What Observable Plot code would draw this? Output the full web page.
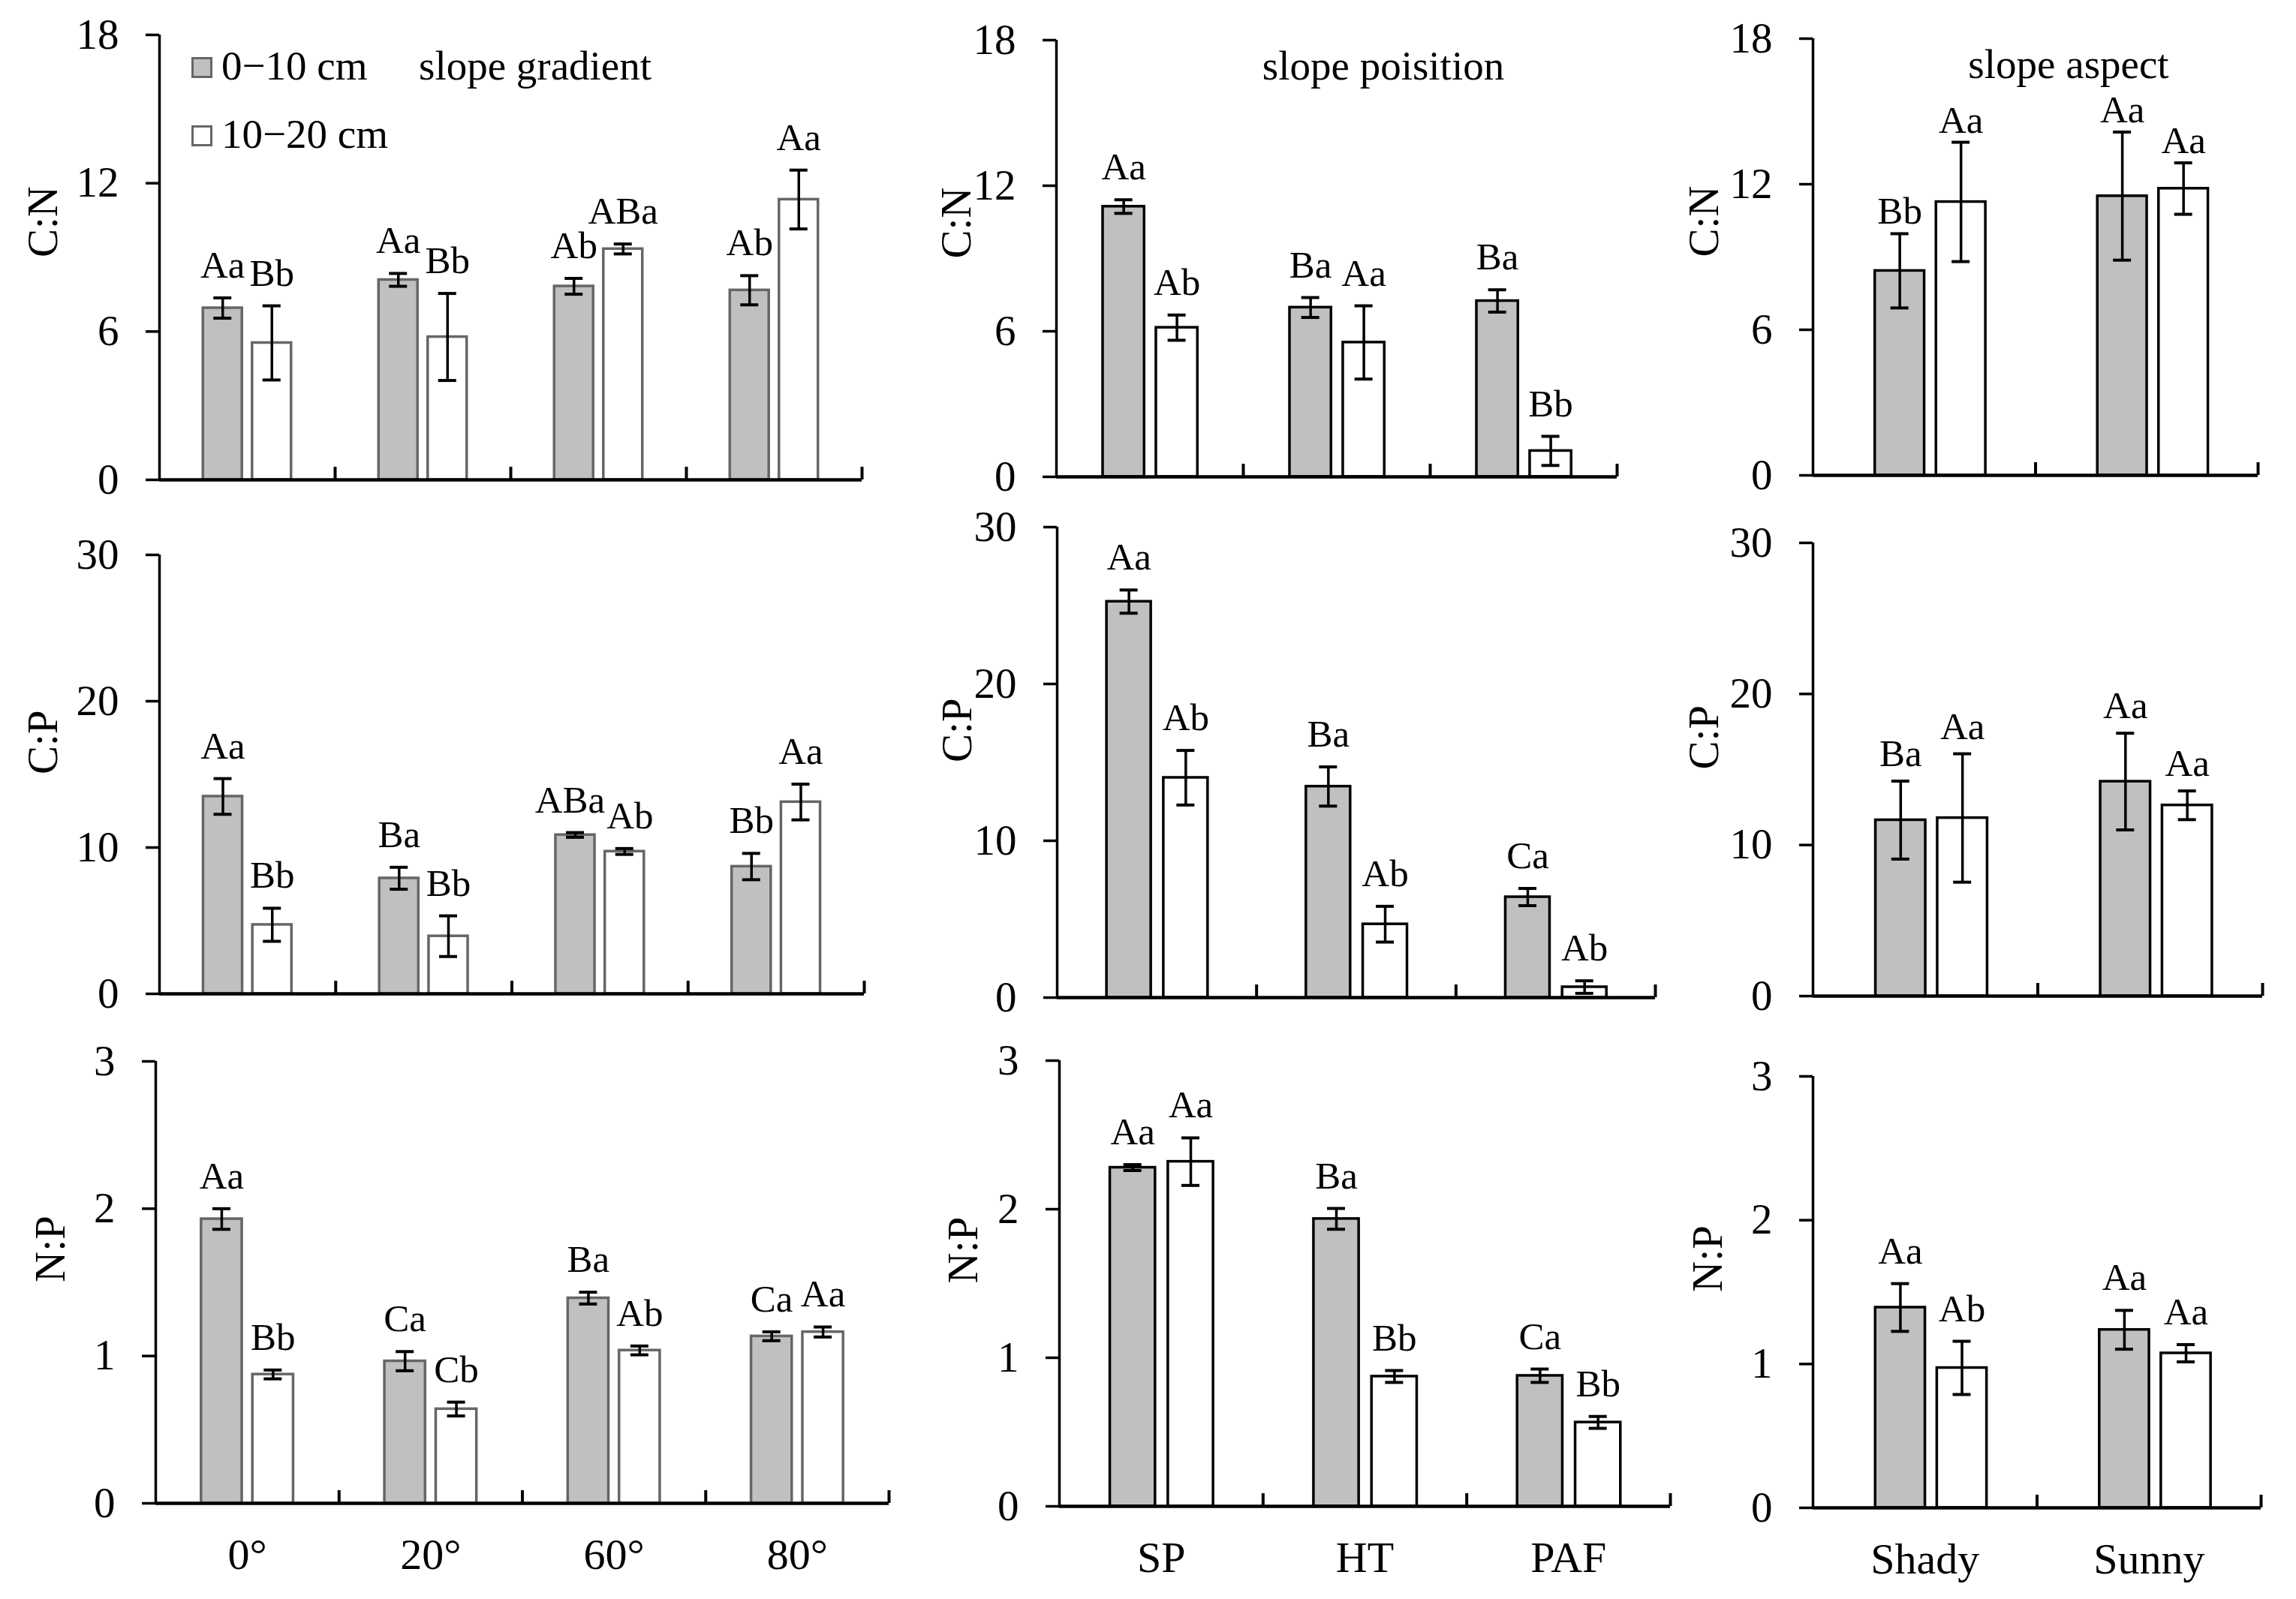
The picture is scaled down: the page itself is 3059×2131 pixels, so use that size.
<!DOCTYPE html>
<html>
<head>
<meta charset="utf-8">
<script src="https://cdn.jsdelivr.net/npm/d3@7"></script>
<script src="https://cdn.jsdelivr.net/npm/@observablehq/plot@0.6"></script>
<style>
  body { margin: 0; background: #fff; }
  #chart { position: relative; width: 3059px; height: 2131px; font-family: "Liberation Serif", "Times New Roman", serif; }
  #chart svg { position: absolute; }
  .note { position: absolute; font-size: 55px; line-height: 1; white-space: nowrap; color: #000; }
  .key { position: absolute; width: 22px; height: 22px; border: 3px solid #666; }
</style>
</head>
<body>
<div id="chart"></div>
<script>
const depths = ['0−10 cm', '10−20 cm']

const gradientCats = ['0°', '20°', '60°', '80°']
const positionCats = ['SP', 'HT', 'PAF']
const aspectCats = ['Shady', 'Sunny']

// pares [0-10 cm, 10-20 cm] por categoria
const cnGradient = [[6.95, 5.54], [8.09, 5.78], [7.83, 9.34], [7.67, 11.34]]
const cnGradientErr = [[0.41, 1.5], [0.26, 1.76], [0.32, 0.2], [0.59, 1.19]]
const cnGradientSig = [['Aa', 'Bb'], ['Aa', 'Bb'], ['Ab', 'ABa'], ['Ab', 'Aa']]

const cnPosition = [[11.14, 6.15], [6.98, 5.54], [7.25, 1.07]]
const cnPositionErr = [[0.28, 0.52], [0.41, 1.51], [0.46, 0.6]]
const cnPositionSig = [['Aa', 'Ab'], ['Ba', 'Aa'], ['Ba', 'Bb']]

const cnAspect = [[8.43, 11.27], [11.51, 11.82]]
const cnAspectErr = [[1.53, 2.46], [2.64, 1.06]]
const cnAspectSig = [['Bb', 'Aa'], ['Aa', 'Aa']]

const cpGradient = [[13.49, 4.72], [7.9, 3.94], [10.86, 9.73], [8.7, 13.11]]
const cpGradientErr = [[1.22, 1.13], [0.75, 1.39], [0.16, 0.2], [0.9, 1.22]]
const cpGradientSig = [['Aa', 'Bb'], ['Ba', 'Bb'], ['ABa', 'Ab'], ['Bb', 'Aa']]

const cpPosition = [[25.25, 14.02], [13.46, 4.68], [6.41, 0.67]]
const cpPositionErr = [[0.74, 1.74], [1.25, 1.14], [0.55, 0.4]]
const cpPositionSig = [['Aa', 'Ab'], ['Ba', 'Ab'], ['Ca', 'Ab']]

const cpAspect = [[11.65, 11.79], [14.2, 12.63]]
const cpAspectErr = [[2.58, 4.25], [3.2, 0.95]]
const cpAspectSig = [['Ba', 'Aa'], ['Aa', 'Aa']]

const npGradient = [[1.93, 0.875], [0.965, 0.64], [1.393, 1.038], [1.134, 1.163]]
const npGradientErr = [[0.07, 0.03], [0.065, 0.047], [0.04, 0.03], [0.03, 0.034]]
const npGradientSig = [['Aa', 'Bb'], ['Ca', 'Cb'], ['Ba', 'Ab'], ['Ca', 'Aa']]

const npPosition = [[2.28, 2.32], [1.935, 0.874], [0.879, 0.565]]
const npPositionErr = [[0.02, 0.16], [0.07, 0.04], [0.045, 0.04]]
const npPositionSig = [['Aa', 'Aa'], ['Ba', 'Bb'], ['Ca', 'Bb']]

const npAspect = [[1.393, 0.973], [1.238, 1.075]]
const npAspectErr = [[0.166, 0.185], [0.135, 0.06]]
const npAspectSig = [['Aa', 'Ab'], ['Aa', 'Aa']]

const cnTicks = [0, 6, 12, 18]
const cpTicks = [0, 10, 20, 30]
const npTicks = [0, 1, 2, 3]

const font = '"Liberation Serif", "Times New Roman", serif'
const chart = document.getElementById('chart')
const sigSize = 51

// frame: [izq, der, arriba, abajo] en pixeles de la figura
function panel({cats, means, errs, sigs, ticks, label, frame, offs, barStroke, labelOff, showCats, gap = 27}) {
  const [x0, x1, yT, yB] = frame
  const ml = 230, mr = 30, mt = 90, mb = 130
  const n = cats.length
  const unit = (x1 - x0) / n
  const yMax = ticks[ticks.length - 1]
  const half = 0.111
  const cap = 12 / unit
  const rows = []
  cats.forEach((c, i) => depths.forEach((d, j) => rows.push({
    cat: c, i, j, depth: d, v: means[i][j], e: errs[i][j], sig: sigs[i][j], shift: 0
  })))
  const cx = d => d.i + offs[d.j]

  // separar letras que se pisan dentro de un mismo grupo
  d3.groups(rows, d => d.i).forEach(([, [a, b]]) => {
    const dy = Math.abs(a.v + a.e - b.v - b.e) / yMax * (yB - yT)
    if (dy > sigSize * 0.75) return
    const need = (a.sig.length + b.sig.length) * 0.29 * sigSize + 6
    const have = (offs[1] - offs[0]) * unit
    if (need > have) {
      a.shift = -(need - have) / 2
      b.shift = (need - have) / 2
    }
  })

  const marks = [
    Plot.rect(rows.filter(d => d.j === 0), {
      x1: d => cx(d) - half, x2: d => cx(d) + half, y1: () => 0, y2: 'v',
      fill: '#c0c0c0', stroke: barStroke, strokeWidth: 3.5
    }),
    Plot.rect(rows.filter(d => d.j === 1), {
      x1: d => cx(d) - half, x2: d => cx(d) + half, y1: () => 0, y2: 'v',
      fill: 'white', stroke: barStroke, strokeWidth: 3.5
    }),
    Plot.ruleX(rows, {x: cx, y1: d => d.v - d.e, y2: d => d.v + d.e, stroke: 'black', strokeWidth: 3.5}),
    Plot.ruleY(rows, {y: d => d.v + d.e, x1: d => cx(d) - cap, x2: d => cx(d) + cap, stroke: 'black', strokeWidth: 4}),
    Plot.ruleY(rows, {y: d => d.v - d.e, x1: d => cx(d) - cap, x2: d => cx(d) + cap, stroke: 'black', strokeWidth: 4}),
    Plot.text(rows, {
      x: d => cx(d) + d.shift / unit, y: d => d.v + d.e, text: 'sig', lineAnchor: 'bottom', dy: -gap,
      fontSize: sigSize, fontFamily: font, fill: 'black'
    }),
    // ejes
    Plot.ruleY([0], {strokeWidth: 4.5, stroke: 'black'}),
    Plot.ruleX([-0.5], {y1: () => 0, y2: () => yMax, strokeWidth: 3.5, stroke: 'black'}),
    Plot.ruleX(d3.range(1, n + 1).map(k => k - 0.5), {insetTop: (yB - yT) - 17, strokeWidth: 4, stroke: 'black'}),
    Plot.ruleY(ticks, {x1: () => -0.5 - 18 / unit, x2: () => -0.5, strokeWidth: 3.5, stroke: 'black'}),
    Plot.text(ticks, {
      y: d => d, text: d => String(d), frameAnchor: 'left', textAnchor: 'end', dx: -54,
      fontSize: 57, fontFamily: font, fill: 'black'
    }),
    Plot.text([label], {
      text: d => d, frameAnchor: 'left', rotate: -90, dx: -labelOff,
      fontSize: 57, fontFamily: font, fill: 'black'
    })
  ]
  if (showCats) {
    marks.push(Plot.text(cats, {
      x: (d, i) => i, text: d => d, frameAnchor: 'bottom', lineAnchor: 'bottom', dy: 87,
      fontSize: 58, fontFamily: font, fill: 'black'
    }))
  }

  const svg = Plot.plot({
    width: (x1 - x0) + ml + mr,
    height: (yB - yT) + mt + mb,
    marginLeft: ml, marginRight: mr, marginTop: mt, marginBottom: mb,
    x: {domain: [-0.5, n - 0.5], axis: null},
    y: {domain: [0, yMax], axis: null},
    style: {background: 'transparent', overflow: 'visible', fontFamily: font, maxWidth: 'none'},
    marks
  })
  svg.style.left = (x0 - ml) + 'px'
  svg.style.top = (yT - mt) + 'px'
  chart.append(svg)
}

const offL = [-0.14, 0.14]
const offM = [-0.14, 0.145]
const offR = [-0.11, 0.165]

panel({cats: gradientCats, means: cnGradient, errs: cnGradientErr, sigs: cnGradientSig, ticks: cnTicks, label: 'C:N',
  frame: [212, 1148, 46, 639], offs: offL, barStroke: '#666', labelOff: 155})
panel({cats: positionCats, means: cnPosition, errs: cnPositionErr, sigs: cnPositionSig, ticks: cnTicks, label: 'C:N',
  frame: [1407, 2154, 53, 635], offs: offM, barStroke: 'black', labelOff: 133})
panel({cats: aspectCats, means: cnAspect, errs: cnAspectErr, sigs: cnAspectSig, ticks: cnTicks, label: 'C:N',
  frame: [2415, 3008, 51, 633], offs: offR, barStroke: 'black', labelOff: 145, gap: 13})

panel({cats: gradientCats, means: cpGradient, errs: cpGradientErr, sigs: cpGradientSig, ticks: cpTicks, label: 'C:P',
  frame: [212, 1151, 739, 1324], offs: offL, barStroke: '#666', labelOff: 155})
panel({cats: positionCats, means: cpPosition, errs: cpPositionErr, sigs: cpPositionSig, ticks: cpTicks, label: 'C:P',
  frame: [1408, 2205, 702, 1329], offs: offM, barStroke: 'black', labelOff: 133})
panel({cats: aspectCats, means: cpAspect, errs: cpAspectErr, sigs: cpAspectSig, ticks: cpTicks, label: 'C:P',
  frame: [2415, 3014, 723, 1327], offs: offR, barStroke: 'black', labelOff: 145, gap: 20})

panel({cats: gradientCats, means: npGradient, errs: npGradientErr, sigs: npGradientSig, ticks: npTicks, label: 'N:P',
  frame: [207, 1184, 1414, 2003], offs: offL, barStroke: '#666', labelOff: 140, showCats: true})
panel({cats: positionCats, means: npPosition, errs: npPositionErr, sigs: npPositionSig, ticks: npTicks, label: 'N:P',
  frame: [1411, 2225, 1413, 2007], offs: offM, barStroke: 'black', labelOff: 128, showCats: true})
panel({cats: aspectCats, means: npAspect, errs: npAspectErr, sigs: npAspectSig, ticks: npTicks, label: 'N:P',
  frame: [2415, 3012, 1434, 2009], offs: offR, barStroke: 'black', labelOff: 140, showCats: true})

// leyenda y titulos
function note(text, left, baseline, center) {
  const el = document.createElement('div')
  el.className = 'note'
  el.textContent = text
  el.style.left = left + 'px'
  el.style.top = (baseline - 0.8375 * 55) + 'px'
  if (center) el.style.transform = 'translateX(-50%)'
  chart.append(el)
}
function key(fill, left, top) {
  const el = document.createElement('div')
  el.className = 'key'
  el.style.background = fill
  el.style.left = left + 'px'
  el.style.top = top + 'px'
  chart.append(el)
}
key('#c0c0c0', 255, 76)
key('white', 255, 167)
note(depths[0], 295, 106)
note(depths[1], 295, 197)
note('slope gradient', 558, 106)
note('slope poisition', 1843, 106, true)
note('slope aspect', 2756, 104, true)
</script>
</body>
</html>
